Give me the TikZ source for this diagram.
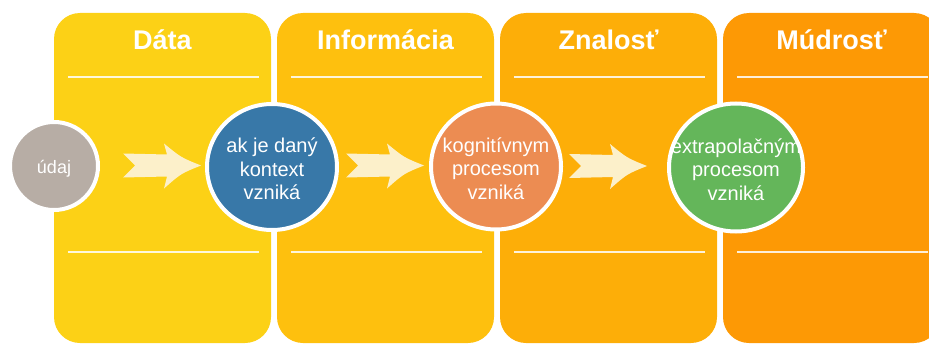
\documentclass[tikz,border=0pt]{standalone}
\usepackage{fontspec}
\setmainfont{Liberation Sans}
\usetikzlibrary{shapes.geometric}

\definecolor{panelA}{RGB}{252,209,22}
\definecolor{panelB}{RGB}{254,192,14}
\definecolor{panelC}{RGB}{253,174,8}
\definecolor{panelD}{RGB}{253,153,5}
\definecolor{greyfill}{RGB}{183,173,165}
\definecolor{bluefill}{RGB}{56,120,168}
\definecolor{orangefill}{RGB}{236,140,82}
\definecolor{greenfill}{RGB}{100,182,90}
\definecolor{cream}{RGB}{252,240,202}

\tikzset{
  panel/.style={rectangle, rounded corners=26pt, draw=none, inner sep=0pt,
    minimum width=217pt, minimum height=330pt},
  title/.style={anchor=base, text=white, font=\fontsize{27}{30}\selectfont\bfseries},
  rule/.style={draw=white, line width=1.6pt, opacity=0.85},
  blob/.style={ellipse, draw=none, inner sep=0pt},
  ring/.style={ellipse, draw=white, line width=4pt, inner sep=0pt},
  label/.style={text=white, align=center, font=\fontsize{20}{23.5}\selectfont},
  flowarrow/.pic={
    \fill[cream] (0,-12) -- (44,-11) -- (41,-22)
      .. controls (58,-8) .. (78,0)
      .. controls (58,8) .. (41,23) -- (44,11) -- (0,12) -- (12,0) -- cycle;
  }
}

\begin{document}
\begin{tikzpicture}[x=1pt,y=-1pt]
\useasboundingbox (0,0) rectangle (929,345);
\clip (0,0) rectangle (929,345);

% the four stage columns
\node[panel, fill=panelA] (pdata) at (162.5,178) {};
\node[panel, fill=panelB] (pinfo) at (385.5,178) {};
\node[panel, fill=panelC] (pzna)  at (608.5,178) {};
\node[panel, fill=panelD] (pmud)  at (831.5,178) {};

% column headings and divider rules
\foreach \p/\t in {pdata/Dáta, pinfo/Informácia, pzna/Znalosť, pmud/Múdrosť}{
  \node[title] (\p-title) at (\p.center |- 0,50) {\t};
  \draw[rule] ([xshift=14pt]\p.west |- 0,77) -- ([xshift=-12pt]\p.east |- 0,77);
  \draw[rule] ([xshift=14pt]\p.west |- 0,252) -- ([xshift=-12pt]\p.east |- 0,252);
}

% block arrows between the stages
\pic at (123,165.5) {flowarrow};
\pic at (346,165.5) {flowarrow};
\pic at (569,166) {flowarrow};

% stage circles: fill, text, then the white ring on top
\node[blob, fill=greyfill, minimum width=88pt, minimum height=88pt] (udaj) at (54,166) {};
\node[label, font=\fontsize{18}{21}\selectfont] (udaj-t) at ([yshift=-3pt]udaj.center) {údaj};
\node[ring, minimum width=88pt, minimum height=88pt] (udaj-r) at (udaj.center) {};

\node[blob, fill=bluefill, minimum width=130pt, minimum height=126pt] (kontext) at (272,167) {};
\node[label] (kontext-t) at ([yshift=-2pt]kontext.center) {ak je daný\\kontext\\vzniká};
\node[ring, minimum width=130pt, minimum height=126pt] (kontext-r) at (kontext.center) {};

\node[blob, fill=orangefill, minimum width=130pt, minimum height=126pt] (kogn) at (496,166.5) {};
\node[label] (kogn-t) at ([yshift=-2pt]kogn.center) {kognitívnym\\procesom\\vzniká};
\node[ring, minimum width=130pt, minimum height=126pt] (kogn-r) at (kogn.center) {};

\node[blob, fill=greenfill, minimum width=134pt, minimum height=128pt] (extra) at (736,167.5) {};
\node[label] (extra-t) at ([yshift=-2pt]extra.center) {extrapolačným\\procesom\\vzniká};
\node[ring, minimum width=134pt, minimum height=128pt] (extra-r) at (extra.center) {};
\end{tikzpicture}
\end{document}
